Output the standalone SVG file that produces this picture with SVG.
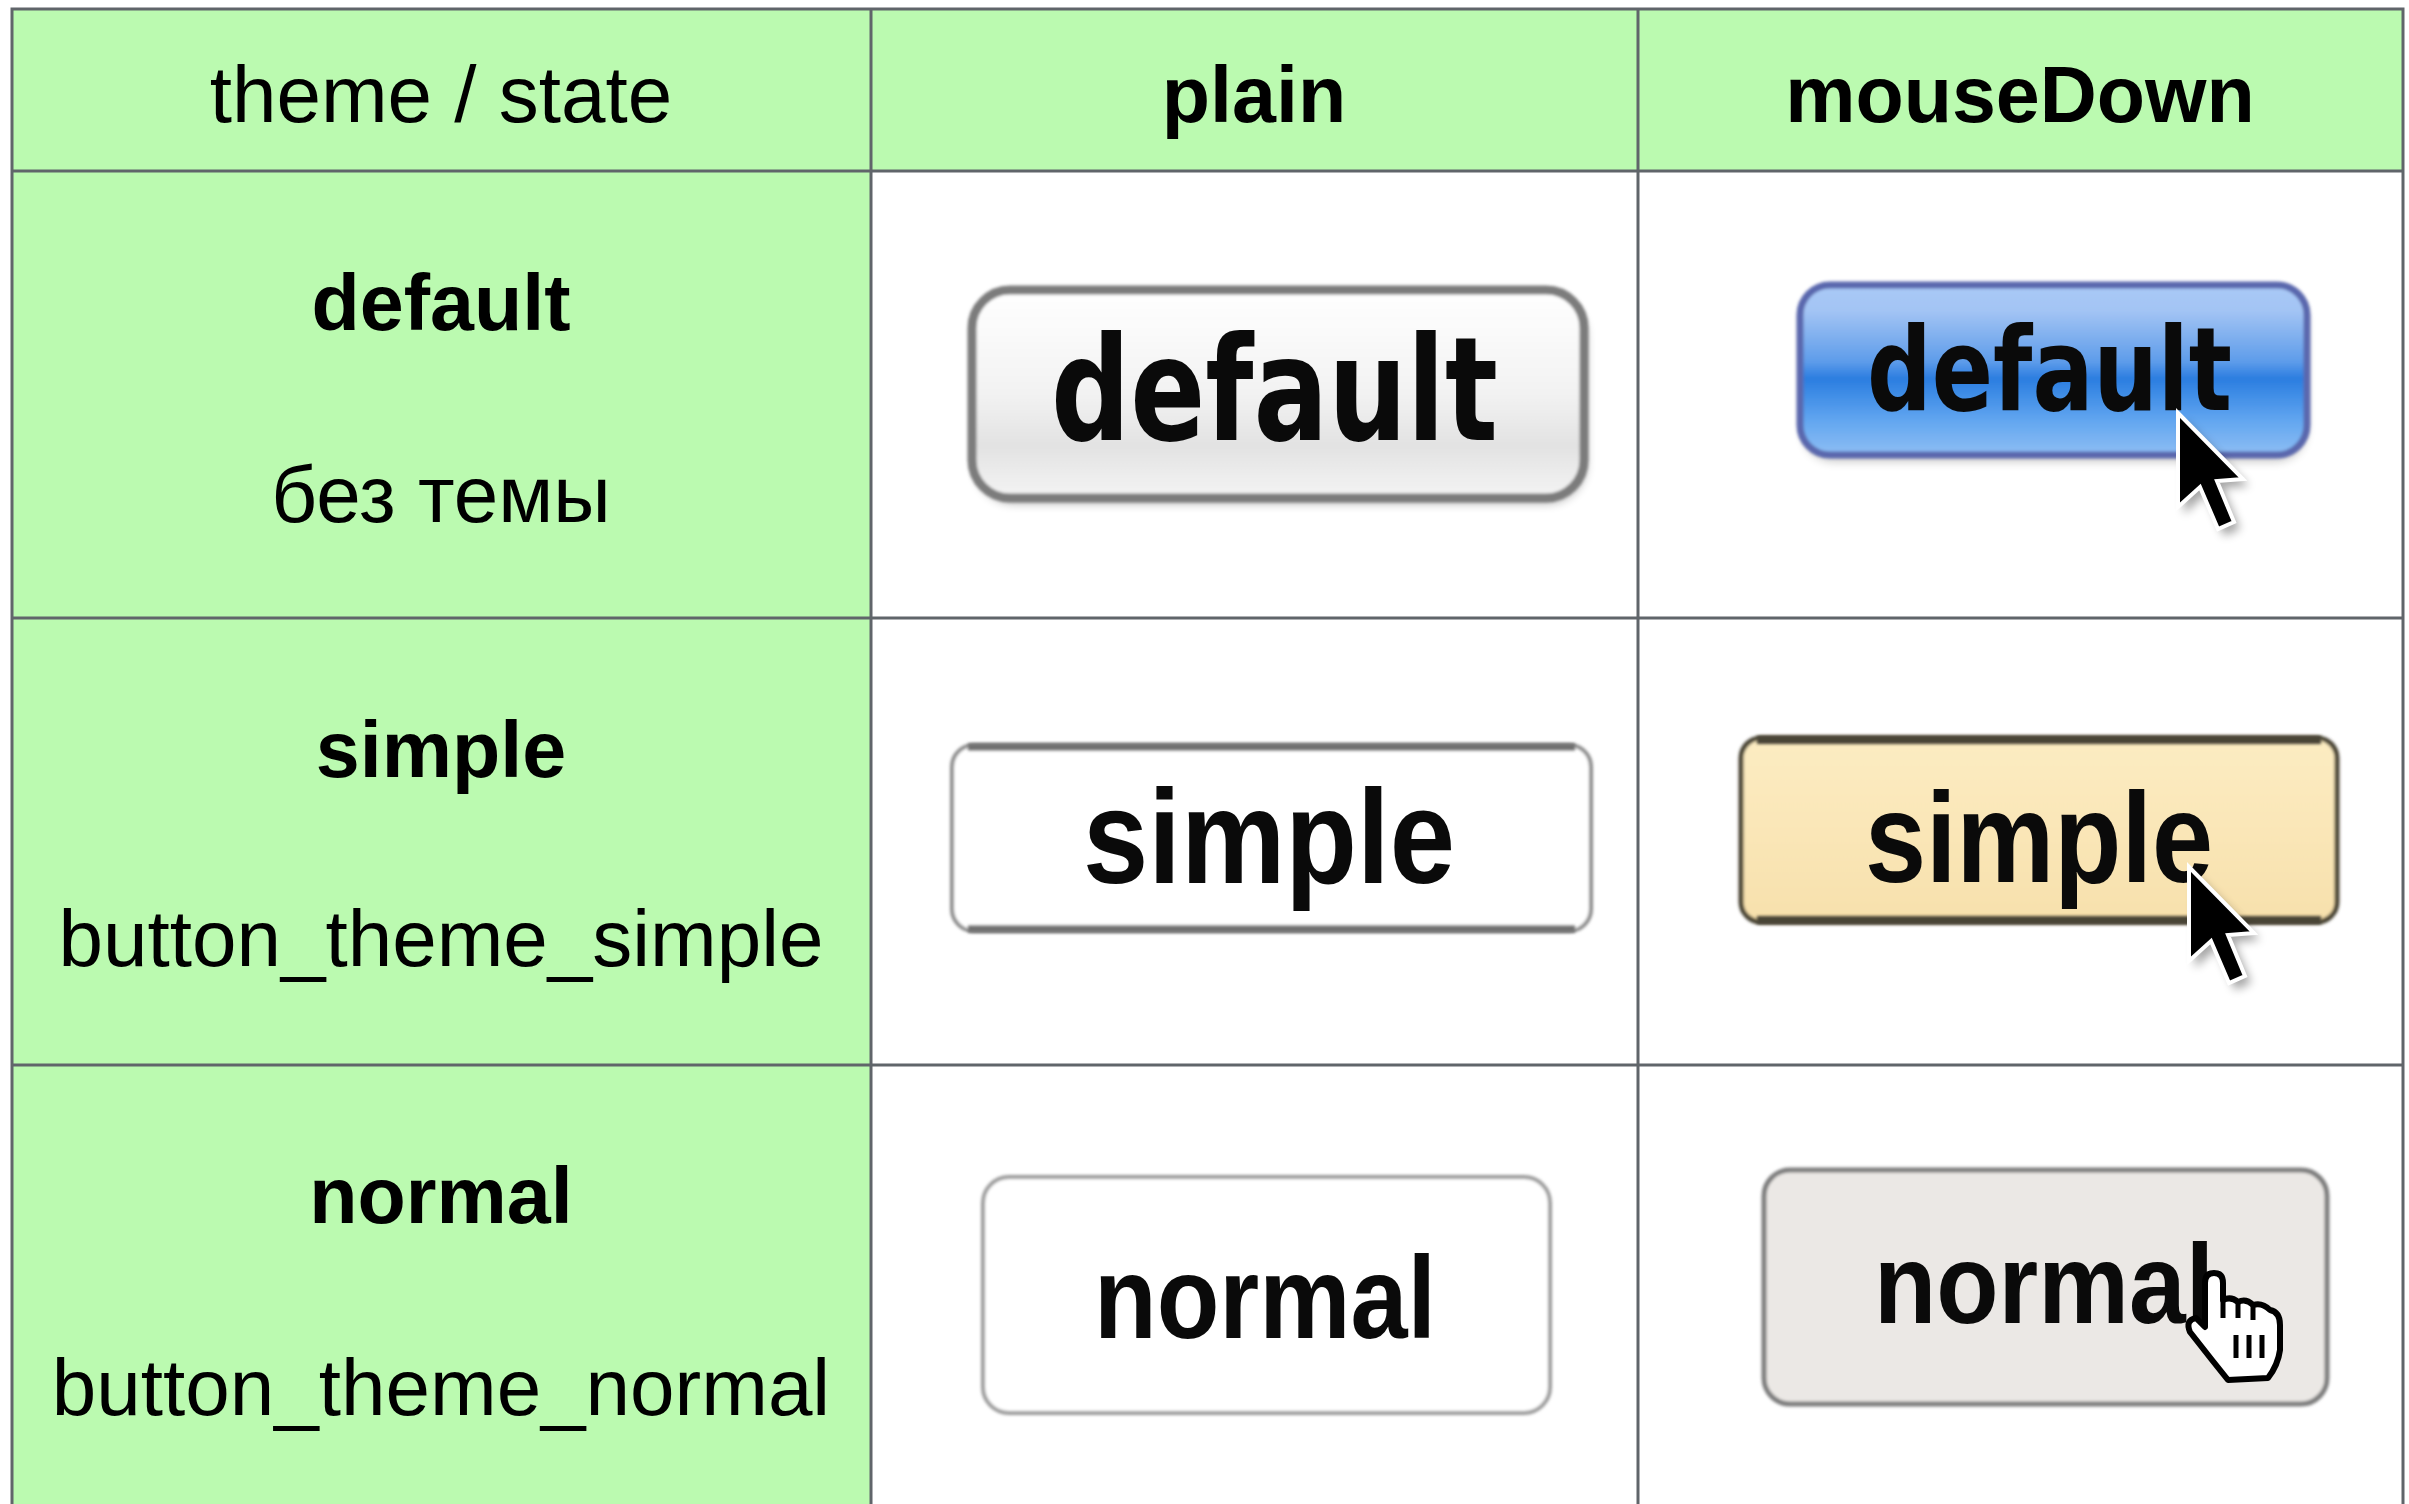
<svg xmlns="http://www.w3.org/2000/svg" width="2409" height="1504" viewBox="0 0 2409 1504">
<style>
.hdr{font-family:"Liberation Sans",Arial,sans-serif;fill:#000}
.lt{font-size:80px;font-weight:normal}
.bd{font-size:79px;font-weight:bold}
.cell{fill:#bbfab0}
.grid{stroke:#60656a;stroke-width:3;fill:none}
.aqua{font-family:"DejaVu Sans",Verdana,sans-serif;font-weight:bold;fill:#0a0a0a}
.hel{font-family:"Liberation Sans",Arial,sans-serif;font-weight:bold;fill:#0a0a0a}
.arrow{fill:#000;stroke:#fff;stroke-width:4;stroke-linejoin:miter}
</style>
<defs>
<filter id="soft" x="-10%" y="-20%" width="120%" height="140%"><feGaussianBlur stdDeviation="1.6"/></filter>
<filter id="shadow" x="-20%" y="-20%" width="140%" height="160%"><feGaussianBlur stdDeviation="5"/></filter>
<linearGradient id="gAqua" x1="0" y1="0" x2="0" y2="1">
<stop offset="0" stop-color="#ffffff"/><stop offset="0.5" stop-color="#f2f2f2"/><stop offset="0.75" stop-color="#e2e2e2"/><stop offset="1" stop-color="#f4f4f4"/>
</linearGradient>
<linearGradient id="gBlue" x1="0" y1="0" x2="0" y2="1">
<stop offset="0" stop-color="#a9c9f6"/><stop offset="0.15" stop-color="#a3c4f4"/><stop offset="0.45" stop-color="#5e9cea"/><stop offset="0.55" stop-color="#2a7de0"/><stop offset="0.8" stop-color="#62a6f0"/><stop offset="1" stop-color="#8ebef4"/>
</linearGradient>
<linearGradient id="gYellow" x1="0" y1="0" x2="0" y2="1">
<stop offset="0" stop-color="#fcecc2"/><stop offset="1" stop-color="#f7e0ac"/>
</linearGradient>
<path id="arrowShape" d="M0,0 L0,94 L22,74 L40,116 L56,109 L39,68 L65,66 Z"/>
</defs>

<rect x="0" y="0" width="2409" height="1504" fill="#ffffff"/>

<g id="header-row">
<rect class="cell" x="12" y="9" width="2391" height="162"/>
<text class="hdr lt" x="441" y="122" text-anchor="middle">theme / state</text>
<text class="hdr bd" x="1254" y="122" text-anchor="middle">plain</text>
<text class="hdr bd" x="2020" y="122" text-anchor="middle">mouseDown</text>
</g>

<g id="theme-column">
<rect class="cell" x="12" y="171" width="859" height="1333"/>
</g>

<g id="row-default-label">
<text class="hdr bd" x="441" y="330" text-anchor="middle">default</text>
<text class="hdr lt" x="441" y="522" text-anchor="middle">без темы</text>
</g>
<g id="row-simple-label">
<text class="hdr bd" x="441" y="777" text-anchor="middle">simple</text>
<text class="hdr lt" x="441" y="966" text-anchor="middle">button_theme_simple</text>
</g>
<g id="row-normal-label">
<text class="hdr bd" x="441" y="1223" text-anchor="middle">normal</text>
<text class="hdr lt" x="441" y="1415" text-anchor="middle">button_theme_normal</text>
</g>

<g id="grid">
<path class="grid" d="M12,1504 L12,9 L2403,9 L2403,1504 M871,9 L871,1504 M1638,9 L1638,1504 M12,171 L2403,171 M12,618 L2403,618 M12,1065 L2403,1065"/>
</g>

<g id="btn-default-plain">
<rect x="974" y="296" width="613" height="208" rx="40" fill="#000" opacity="0.25" filter="url(#shadow)"/>
<rect x="972" y="290" width="612" height="208" rx="38" fill="url(#gAqua)" stroke="#7c7c7c" stroke-width="9" filter="url(#soft)"/>
<text class="aqua" x="1051" y="440" font-size="145" textLength="447" lengthAdjust="spacingAndGlyphs">default</text>
</g>

<g id="btn-default-mousedown">
<rect x="1802" y="290" width="505" height="172" rx="32" fill="#000" opacity="0.2" filter="url(#shadow)"/>
<rect x="1800" y="285" width="507" height="170" rx="30" fill="url(#gBlue)" stroke="#5a67ad" stroke-width="7" filter="url(#soft)"/>
<text class="aqua" x="1867" y="410" font-size="116" textLength="365" lengthAdjust="spacingAndGlyphs">default</text>
<use href="#arrowShape" transform="translate(2184,420)" fill="#000" opacity="0.35" filter="url(#shadow)"/>
<use href="#arrowShape" class="arrow" transform="translate(2178,413)"/>
</g>

<g id="btn-simple-plain">
<rect x="952" y="745" width="639" height="186" rx="22" fill="#ffffff" stroke="#8a8a8a" stroke-width="4" filter="url(#soft)"/>
<path d="M968,747 L1575,747 M968,929 L1575,929" stroke="#707070" stroke-width="7" fill="none" filter="url(#soft)"/>
<text class="hel" x="1083" y="883" font-size="134" textLength="372" lengthAdjust="spacingAndGlyphs">simple</text>
</g>

<g id="btn-simple-mousedown">
<rect x="1741" y="738" width="596" height="184" rx="20" fill="url(#gYellow)" stroke="#4a4434" stroke-width="5" filter="url(#soft)"/>
<path d="M1757,740 L2321,740 M1757,920 L2321,920" stroke="#4a4434" stroke-width="8" fill="none" filter="url(#soft)"/>
<text class="hel" x="1865" y="882" font-size="128" textLength="348" lengthAdjust="spacingAndGlyphs">simple</text>
<use href="#arrowShape" transform="translate(2195,874)" fill="#000" opacity="0.35" filter="url(#shadow)"/>
<use href="#arrowShape" class="arrow" transform="translate(2189,867)"/>
</g>

<g id="btn-normal-plain">
<rect x="983" y="1177" width="567" height="236" rx="26" fill="#ffffff" stroke="#9a9a9a" stroke-width="4" filter="url(#soft)"/>
<path d="M1005,1178 L1528,1178" stroke="#8a8a8a" stroke-width="5" fill="none" filter="url(#soft)"/>
<text class="hel" x="1094" y="1338" font-size="117" textLength="342" lengthAdjust="spacingAndGlyphs">normal</text>
</g>

<g id="btn-normal-mousedown">
<rect x="1764" y="1170" width="563" height="234" rx="26" fill="#ebe8e5" stroke="#7d7d7d" stroke-width="5" filter="url(#soft)"/>
<text class="hel" x="1874" y="1323" font-size="114" textLength="340" lengthAdjust="spacingAndGlyphs">normal</text>
<g id="hand-cursor">
<path d="M2205,1283 Q2205,1273 2214,1273 Q2223,1273 2223,1283 L2223,1300 Q2231,1296 2238,1302 Q2246,1298 2253,1305 Q2262,1302 2270,1310 Q2280,1312 2280,1325 L2280,1350 Q2278,1365 2268,1378 L2228,1380 Q2220,1370 2212,1360 L2190,1332 Q2185,1320 2196,1318 L2205,1327 Z" fill="#ffffff" stroke="#000" stroke-width="6" stroke-linejoin="round"/>
<path d="M2223,1300 L2223,1318 M2238,1302 L2238,1318 M2253,1305 L2253,1320 M2236,1335 L2236,1358 M2249,1335 L2249,1358 M2262,1335 L2262,1358" stroke="#000" stroke-width="5" fill="none"/>
</g>
</g>
</svg>
